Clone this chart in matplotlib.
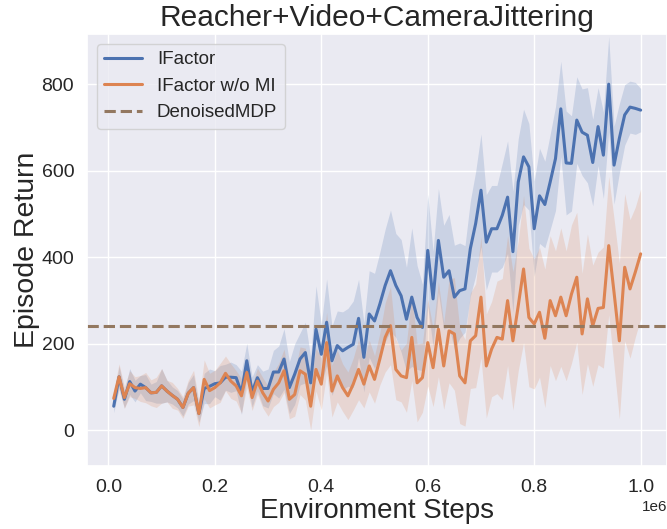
import numpy as np
import matplotlib
matplotlib.use("Agg")
import matplotlib.pyplot as plt
import seaborn as sns

## Data ~~~~~~~~~~~~~~~~~~~~~~~~~~~~~~~~~~~~~~~~~~~~~~~~~~~~~~~~~~~~~~~~~~~~~~~~~~~~~~~

steps = np.arange(1, 101) * 1e4  # environment steps

ifactor_mean = [
    56, 124, 72, 113, 91, 107, 99, 87, 88, 103,
    91, 81, 72, 53, 86, 99, 39, 97, 102, 108,
    110, 123, 123, 122, 87, 161, 89, 122, 97, 97,
    135, 135, 165, 99, 130, 165, 180, 110, 234, 176,
    250, 161, 196, 184, 192, 199, 259, 169, 269, 253,
    292, 335, 369, 335, 311, 257, 308, 261, 238, 416,
    304, 439, 354, 369, 308, 323, 327, 420, 478, 555,
    435, 466, 466, 497, 539, 413, 574, 632, 609, 466,
    542, 522, 574, 628, 743, 618, 617, 717, 689, 682,
    619, 702, 636, 800, 613, 675, 729, 747, 744, 740,
]
ifactor_std = [
    15, 25, 20, 30, 25, 20, 30, 20, 25, 40,
    25, 20, 20, 20, 25, 30, 20, 35, 40, 30,
    40, 30, 35, 30, 50, 40, 35, 30, 40, 45,
    50, 60, 70, 60, 70, 60, 70, 60, 100, 70,
    100, 80, 80, 90, 90, 100, 90, 80, 100, 110,
    120, 130, 140, 120, 130, 120, 160, 120, 100, 130,
    110, 120, 120, 130, 120, 110, 100, 110, 120, 130,
    110, 100, 100, 120, 130, 140, 100, 110, 100, 110,
    110, 100, 110, 120, 110, 120, 110, 100, 100, 110,
    100, 90, 100, 110, 90, 80, 70, 60, 60, 50,
]

nomi_mean = [
    74, 124, 76, 108, 99, 97, 99, 87, 88, 103,
    91, 81, 72, 53, 86, 99, 39, 118, 92, 99,
    110, 132, 114, 103, 80, 134, 76, 114, 87, 68,
    95, 110, 138, 72, 83, 138, 130, 56, 141, 107,
    203, 91, 126, 99, 80, 107, 141, 107, 149, 118,
    165, 215, 242, 141, 126, 122, 215, 110, 122, 203,
    145, 234, 149, 230, 223, 126, 110, 207, 219, 308,
    149, 188, 215, 211, 300, 207, 288, 373, 261, 246,
    273, 213, 300, 265, 308, 265, 315, 354, 223, 304,
    242, 282, 284, 427, 319, 207, 377, 327, 366, 408,
]
nomi_std = [
    20, 30, 25, 30, 25, 30, 35, 30, 35, 40,
    25, 30, 25, 25, 30, 40, 30, 45, 40, 40,
    45, 40, 40, 35, 40, 35, 30, 30, 35, 35,
    40, 45, 50, 45, 50, 55, 60, 55, 50, 60,
    70, 60, 60, 55, 55, 60, 70, 55, 60, 55,
    60, 80, 90, 70, 60, 80, 100, 90, 80, 100,
    90, 110, 100, 120, 130, 110, 100, 110, 120, 140,
    120, 110, 130, 140, 150, 160, 150, 170, 160, 150,
    150, 160, 150, 150, 160, 150, 160, 150, 140, 150,
    140, 130, 140, 160, 170, 180, 170, 160, 150, 150,
]

denoised_mdp = 242

## Plot ~~~~~~~~~~~~~~~~~~~~~~~~~~~~~~~~~~~~~~~~~~~~~~~~~~~~~~~~~~~~~~~~~~~~~~~~~~~~~~~~

sns.set_theme(style="darkgrid")
plt.rcParams["font.family"] = ["Liberation Sans", "DejaVu Sans"]
colors = sns.color_palette("deep")

fig, ax = plt.subplots(figsize=(6.67, 5.29), dpi=100)
fig.subplots_adjust(left=0.131, right=1.0, top=0.935, bottom=0.12)

for mean, std, c, label in [(ifactor_mean, ifactor_std, colors[0], "IFactor"),
                            (nomi_mean, nomi_std, colors[1], "IFactor w/o MI")]:
    mean = np.array(mean, dtype=float)
    std = np.array(std, dtype=float)
    ax.plot(steps, mean, color=c, linewidth=2.2, label=label)
    ax.fill_between(steps, mean - std, mean + std, color=c, alpha=0.2, linewidth=0)

ax.axhline(denoised_mdp, color=colors[5], linestyle="--", linewidth=2.2, label="DenoisedMDP")

ax.set_xlim(-0.0395e6, 1.0495e6)
ax.set_ylim(-81, 915)
ax.set_yticks([0, 200, 400, 600, 800])
ax.tick_params(labelsize=14)
ax.xaxis.get_offset_text().set_fontsize(11)

ax.set_title("Reacher+Video+CameraJittering", fontsize=21.5)
ax.set_xlabel("Environment Steps", fontsize=20, labelpad=2)
ax.set_ylabel("Episode Return", fontsize=20.5, labelpad=1)
ax.legend(loc="upper left", fontsize=13.5)

fig.savefig("out.png", dpi=100)
